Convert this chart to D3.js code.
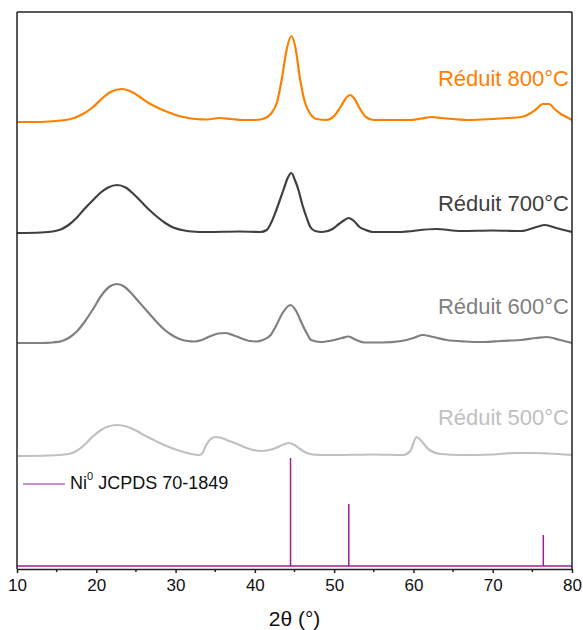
<!DOCTYPE html>
<html>
<head>
<meta charset="utf-8">
<script src="https://cdn.jsdelivr.net/npm/d3@7"></script>
<style>
  html, body { margin: 0; padding: 0; background: #fff; }
  svg { display: block; font-family: "Liberation Sans", Arial, sans-serif; }
</style>
</head>
<body>
<svg id="chart" width="583" height="630"></svg>
<script>
// ---------- data ----------
const xTicks = [10, 20, 30, 40, 50, 60, 70, 80];
const xMinorTicks = [15, 25, 35, 45, 55, 65, 75];

const seriesNames = ["Réduit 800°C", "Réduit 700°C", "Réduit 600°C", "Réduit 500°C"];
const seriesColors = ["#ff8000", "#404040", "#808080", "#c0c0c0"];
const seriesOffsets = [447, 336, 226, 113];

const angles800 = [10,12,14,15.5,17,18.3,19.6,20.8,21.8,23.2,24.5,25.5,26.6,27.8,29,30.2,31.3,32.5,34,35.5,37,38.5,40,41,42,42.8,43.4,44.0,44.6,45.1,45.7,46.3,47.0,47.8,49,50.0,50.8,51.5,52.0,52.5,53.2,54.0,55,57,59.5,61,62.3,63.5,65,67,70,72,73.6,74.6,75.5,76.3,77.1,77.8,78.6,79.3,80];
const counts800 = [0,0,0.5,1.5,3.5,8,15,24,30,33,30,25,19,14,10,6.5,4.5,3,2.5,4,3,2,2,3,8,20,43,72,86,75,43,20,8,3,2,6,15,24,27,24,14,5,2,2,2,3.5,5,4,3,2,3,4,5,8,13,18,18,13,8,5,2];

const angles700 = [10,13,14.5,15.5,16.5,17.5,18.5,19.6,20.5,21.5,22.6,23.7,24.7,25.7,26.7,27.7,28.7,29.7,30.8,32,34,38,40.7,41.5,42.1,42.8,43.6,44.2,44.6,45.1,45.5,46.0,46.5,47.0,47.6,48.5,49.8,50.6,51.3,51.8,52.5,53.2,54.0,54.9,58,62.8,66,70,73.6,75.5,76.6,78,80];
const counts700 = [0,0.5,1.5,3.5,8,15,24,33,40,45.5,48,45.5,39,31,23,16,10,5.5,3,1.5,1,1.5,1,3,11,25,43,56,60,52,43,28,16,6,2,1,4,9,13,15,12,6,3,1,1,4,2,2.5,2,6,8,5,1];

const angles600 = [10,13,14.5,15.7,16.7,17.6,18.6,19.6,20.6,21.6,22.6,23.6,24.5,25.5,26.5,27.5,28.5,29.5,30.5,31.5,32.4,33.3,34.3,35.4,36.2,37.2,38.2,39.3,40.2,41,42,42.6,43.5,44.5,45.2,45.9,46.6,47.1,48.3,50.0,51.0,51.8,52.8,53.9,56,58.5,60,61.1,62.5,64.2,66.5,68.9,71,73.5,75.5,76.8,78.5,80];
const counts600 = [0,0,0.5,2,6,12,22,34,47,56,59,56,49,40,31,22,14,8,4,2,1.5,3,6.5,9.5,10,8,5,2,1.5,3,8,16,30,38,32,20,9,3,1,3,5,6.5,3,0.5,0.5,2,5,8,6,3,1.5,1,2,3,5,6,3,0];

const angles500 = [10,14,16.5,17.5,18.5,19.5,20.5,21.5,22.6,23.8,25,26,27,28,29,30,31,32,33,33.4,33.8,34.3,35,35.8,36.8,37.8,38.8,39.8,40.8,41.8,42.8,43.6,44.3,45,45.7,46.4,47.3,48.5,50,55,58.7,59.6,60.4,61.0,62.0,63.5,66,70,72.8,75,77,80];
const counts500 = [0,0.5,2,5,11,19,25.5,29.5,31,29.5,25.5,21,17,13,9.5,6.5,4,2,1,3,10,16,19,18,15,12,8.5,6,5,6,8.5,11.5,13,11,7,3.5,1.5,1,1,1.5,1,5,19,15,6,2,1,1.5,3,3,2.5,1];

const refName = "JCPDS 70-1849";
const refAngles = [44.5, 51.85, 76.38];
const refHeights = [108, 62, 31];
const refOffset = 3;
const refColor = "#9b1f9b";

// ---------- layout ----------
const W = 583, H = 630;
const margin = { left: 17, right: 11, top: 12, bottom: 61 };
const svg = d3.select("#chart");

const x = d3.scaleLinear().domain([10, 80]).range([margin.left, W - margin.right]);
const y = d3.scaleLinear().domain([0, 557]).range([H - margin.bottom, margin.top]);

const angleSets = [angles800, angles700, angles600, angles500];
const countSets = [counts800, counts700, counts600, counts500];
const labelY = [80, 205, 308, 419];

const line = d3.line()
  .x(d => x(d[0]))
  .y(d => y(d[1]))
  .curve(d3.curveMonotoneX);

// traces
angleSets.forEach((angles, i) => {
  const pts = angles.map((a, j) => [a, countSets[i][j] + seriesOffsets[i]]);
  svg.append("path")
    .datum(pts)
    .attr("fill", "none")
    .attr("stroke", seriesColors[i])
    .attr("stroke-width", 2.2)
    .attr("stroke-linejoin", "round")
    .attr("d", line);
  svg.append("text")
    .attr("x", x(80) - 3)
    .attr("y", labelY[i])
    .attr("text-anchor", "end")
    .attr("dominant-baseline", "middle")
    .attr("font-size", 22)
    .attr("fill", seriesColors[i])
    .text(seriesNames[i]);
});

// reference pattern
svg.append("line")
  .attr("x1", x(10)).attr("x2", x(80))
  .attr("y1", y(refOffset)).attr("y2", y(refOffset))
  .attr("stroke", refColor).attr("stroke-width", 1.5);
svg.selectAll("line.ref")
  .data(refAngles)
  .enter().append("line")
  .attr("class", "ref")
  .attr("x1", d => x(d)).attr("x2", d => x(d))
  .attr("y1", y(refOffset))
  .attr("y2", (d, i) => y(refOffset + refHeights[i]))
  .attr("stroke", refColor).attr("stroke-width", 1.5);

// legend
svg.append("line")
  .attr("x1", 23).attr("x2", 65).attr("y1", 484).attr("y2", 484)
  .attr("stroke", refColor).attr("stroke-width", 1.2);
const lg = svg.append("text")
  .attr("x", 70).attr("y", 484)
  .attr("dominant-baseline", "middle")
  .attr("font-size", 18).attr("fill", "#111");
lg.append("tspan").text("Ni");
lg.append("tspan").attr("font-size", 11).attr("dy", -7).text("0");
lg.append("tspan").attr("dy", 7).text(" " + refName);

// frame
const frameColor = "#222";
svg.append("line").attr("x1", x(10)).attr("x2", x(80)).attr("y1", margin.top).attr("y2", margin.top)
  .attr("stroke", frameColor).attr("stroke-width", 1.5);
svg.append("line").attr("x1", x(10)).attr("x2", x(10)).attr("y1", margin.top).attr("y2", H - margin.bottom)
  .attr("stroke", frameColor).attr("stroke-width", 1.5);
svg.append("line").attr("x1", x(80)).attr("x2", x(80)).attr("y1", margin.top).attr("y2", H - margin.bottom)
  .attr("stroke", frameColor).attr("stroke-width", 1.5);

// x axis
const xAxis = d3.axisBottom(x).tickValues(xTicks).tickSize(4).tickSizeOuter(0).tickPadding(6);
const gx = svg.append("g")
  .attr("transform", `translate(0,${H - margin.bottom})`)
  .call(xAxis);
gx.select(".domain").attr("stroke", frameColor).attr("stroke-width", 1.5);
gx.selectAll(".tick line").attr("stroke", frameColor).attr("stroke-width", 1.5);
gx.selectAll(".tick text").attr("font-size", 17).attr("fill", "#111")
  .attr("font-family", "Liberation Sans, Arial, sans-serif");
gx.selectAll("line.minor")
  .data(xMinorTicks)
  .enter().append("line")
  .attr("class", "minor")
  .attr("x1", d => x(d)).attr("x2", d => x(d))
  .attr("y1", 0).attr("y2", 3)
  .attr("stroke", frameColor).attr("stroke-width", 1.5);

// axis title
svg.append("text")
  .attr("x", (x(10) + x(80)) / 2)
  .attr("y", 620)
  .attr("text-anchor", "middle")
  .attr("dominant-baseline", "middle")
  .attr("font-size", 21)
  .attr("fill", "#111")
  .text("2θ (°)");
</script>
</body>
</html>
